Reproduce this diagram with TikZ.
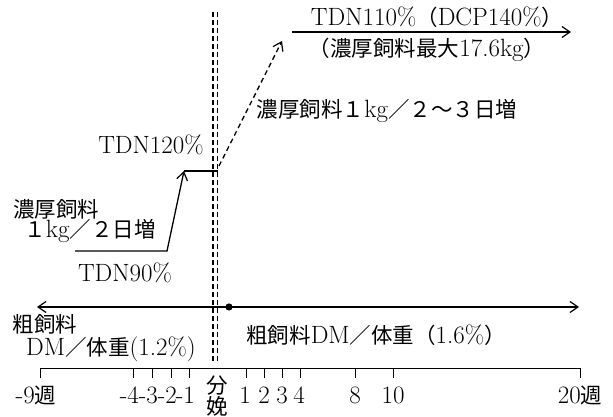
\documentclass[tikz,border=0pt]{standalone}
\usepackage{fontspec}
\newfontfamily\cjk{Noto Sans CJK JP}[Scale=0.86]
\usetikzlibrary{arrows.meta}
\newcommand\jtxt[1]{{\cjk #1}}
\begin{document}
\begin{tikzpicture}[x=1pt,y=-1pt,
  lbl/.style={inner sep=0pt, font=\fontsize{25}{29}\selectfont},
  ln/.style={line width=1.3pt},
  tipend/.style={-{Straight Barb[length=8pt,width=11pt,line width=1.2pt]}},
  tipboth/.style={{Straight Barb[length=8pt,width=11pt,line width=1.2pt]}-{Straight Barb[length=8pt,width=11pt,line width=1.2pt]}},
  vdash/.style={line width=1.6pt, dash pattern=on 5pt off 3pt},
  tick/.style={line width=1pt}]
\useasboundingbox (0,0) rectangle (613,417);

% calving double dashed line
\coordinate (va) at (213,12); \coordinate (vb) at (213,362);
\coordinate (vc) at (217.5,12); \coordinate (vd) at (217.5,362);
\draw[vdash] (va) -- (vb);
\draw[vdash] (vc) -- (vd);

% before calving: TDN90% -> TDN120%
\coordinate (p90a) at (75,251);
\coordinate (p90b) at (167,251);
\coordinate (p120a) at (184,171);
\coordinate (p120b) at (218,171);
\draw[ln,tipend] (p90a) -- (p90b) -- (p120a);
\draw[ln] (p120a) -- (p120b);

% after calving: dashed rise, then TDN110%
\coordinate (dsa) at (219,166);
\coordinate (dsb) at (282,41);
\draw[line width=1.3pt, dash pattern=on 5pt off 3.5pt, tipend] (dsa) -- (dsb);
\coordinate (ta) at (292,32);
\coordinate (tb) at (571,32);
\draw[ln,tipend] (ta) -- (tb);

% roughage arrow
\coordinate (ra) at (37,307);
\coordinate (rb) at (579,307);
\draw[ln,tipboth] (ra) -- (rb);
\fill (229,307) circle (3.6pt);

% texts
\node[lbl] (t110) at (437,17) {TDN110\%\jtxt{（}DCP140\%\jtxt{）}};
\node[lbl] (tmax) at (427,50) {\jtxt{（濃厚飼料最大}17.6kg\jtxt{）}};
\node[lbl] (tinc) at (387,111) {\jtxt{濃厚飼料１}kg\jtxt{／２～３日増}};
\node[lbl] (t120) at (151,145) {TDN120\%};
\node[lbl] (tc1) at (56,209) {\jtxt{濃厚飼料}};
\node[lbl] (tc2) at (90,231) {\jtxt{１}kg\jtxt{／２日増}};
\node[lbl] (t90) at (125,273) {TDN90\%};
\node[lbl] (tr1) at (45,324) {\jtxt{粗飼料}};
\node[lbl] (tr2) at (111,349) {DM\jtxt{／体重}(1.2\%)};
\node[lbl] (tr3) at (376,335) {\jtxt{粗飼料}DM\jtxt{／体重（}1.6\%\jtxt{）}};

% time axis
\coordinate (axa) at (40,368);
\coordinate (axb) at (580,368);
\draw[tick] (axa) -- (axb);
\foreach \x in {40,133,152,171,189,246,264,282,300,355,393,580}
  \draw[tick] (\x,368) -- (\x,378);
\node[lbl] (lm9) at (36,395) {-9\jtxt{週}};
\node[lbl,anchor=east] (lm4) at (139,395) {-4};
\node[lbl,anchor=east] (lm3) at (158,395) {-3};
\node[lbl,anchor=east] (lm2) at (177,395) {-2};
\node[lbl,anchor=east] (lm1) at (195,395) {-1};
\node[lbl] (lbun) at (217,385.5) {\jtxt{分}};
\node[lbl] (lben) at (217,406) {\jtxt{娩}};
\node[lbl] (l1) at (245,395) {1};
\node[lbl] (l2) at (264,395) {2};
\node[lbl] (l3) at (282,395) {3};
\node[lbl] (l4) at (299,395) {4};
\node[lbl] (l8) at (355,395) {8};
\node[lbl] (l10) at (393,395) {10};
\node[lbl] (l20) at (580,395) {20\jtxt{週}};
\end{tikzpicture}
\end{document}
